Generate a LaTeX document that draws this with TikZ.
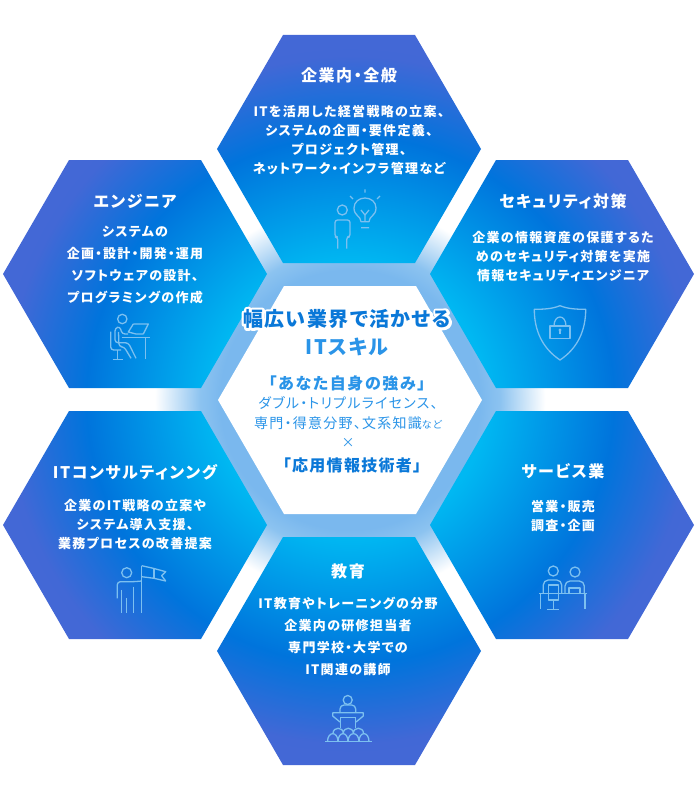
\documentclass[tikz,border=0pt]{standalone}
\usepackage{fontspec}
\setmainfont{Noto Sans CJK JP}[RawFeature=+palt]
\usepackage{tikz}
\definecolor{iconblue}{HTML}{7CC0F0}
\definecolor{deepblue}{HTML}{0A78D8}
\definecolor{skyblue}{HTML}{2A94E8}
\definecolor{ringa}{HTML}{7AB8EE}
\definecolor{ringb}{HTML}{8CC3F0}
\pgfdeclareradialshading{glowring}{\pgfpoint{0bp}{0bp}}{color(0bp)=(ringa);color(16.25bp)=(ringa);color(18.75bp)=(ringb);color(24.4bp)=(white);color(50bp)=(white)}
\definecolor{hexa}{HTML}{00B8F2}
\definecolor{hexb}{HTML}{0074DC}
\definecolor{hexc}{HTML}{4268D6}
\definecolor{hexd}{HTML}{4667D6}
\pgfdeclareradialshading{hexfill}{\pgfpoint{0bp}{0bp}}{color(0bp)=(hexa);color(8.5bp)=(hexa);color(16.5bp)=(hexb);color(21.5bp)=(hexc);color(25bp)=(hexd);color(50bp)=(hexd)}
\newcommand{\hexagon}[2]{(#1-132,#2) -- (#1-66,#2-114) -- (#1+66,#2-114) -- (#1+132,#2) -- (#1+66,#2+114) -- (#1-66,#2+114) -- cycle}
\tikzset{
  hextitle/.style={align=center,text=white,font=\bfseries\fontsize{16}{20}\selectfont\addfontfeature{LetterSpace=10}},
  hexbody/.style={align=center,text=white,font=\bfseries\fontsize{13}{#1}\selectfont\addfontfeature{LetterSpace=10}},
  hexbody/.default=19,
  icon/.style={draw=iconblue,line width=1.3pt,line join=round}
}
\begin{document}
\begin{tikzpicture}[x=1pt,y=-1pt]
  \useasboundingbox (0,0) rectangle (700,800);
  % glow behind the hexagons
  \path[shading=glowring] (350,400) circle[radius=200];
  % the six outer hexagons share one gradient
  \begin{scope}
    \clip \hexagon{349}{149} \hexagon{135}{274} \hexagon{562}{274}
          \hexagon{135}{525} \hexagon{562}{525} \hexagon{349}{651};
    \path[shading=hexfill] (350,400) circle[radius=400];
  \end{scope}
  \fill[white] \hexagon{350}{400};

  % top
  \node[hextitle] (topTitle) at (349,75) {企業内・全般};
  \node[hexbody] (topBody) at (349,140.5) {ITを活用した経営戦略の立案、\\システムの企画・要件定義、\\プロジェクト管理、\\ネットワーク・インフラ管理など};
  % upper left
  \node[hextitle] (engTitle) at (135,201) {エンジニア};
  \node[hexbody=22] (engBody) at (135,265) {システムの\\企画・設計・開発・運用\\ソフトウェアの設計、\\プログラミングの作成};
  % upper right
  \node[hextitle] (secTitle) at (563,201) {セキュリティ対策};
  \node[hexbody] (secBody) at (563,257) {企業の情報資産の保護するた\\めのセキュリティ対策を実施\\情報セキュリティエンジニア};
  % lower left
  \node[hextitle] (conTitle) at (135,472) {ITコンサルティンング};
  \node[hexbody] (conBody) at (135,525) {企業のIT戦略の立案や\\システム導入支援、\\業務プロセスの改善提案};
  % lower right
  \node[hextitle] (svcTitle) at (563,471) {サービス業};
  \node[hexbody] (svcBody) at (563,516.5) {営業・販売\\調査・企画};
  % bottom
  \node[hextitle] (eduTitle) at (348,571) {教育};
  \node[hexbody=22] (eduBody) at (348,636) {IT教育やトレーニングの分野\\企業内の研修担当者\\専門学校・大学での\\IT関連の講師};

  % centre
  \node[text=white,font=\bfseries\fontsize{20}{24}\selectfont\addfontfeature{LetterSpace=7,FakeBold=25}] (midHalo) at (347,319) {\special{pdf:code 1 j}幅広い業界で活かせる};
  \node[text=deepblue,font=\bfseries\fontsize{20}{24}\selectfont\addfontfeature{LetterSpace=7}] (midTitle) at (347,319) {幅広い業界で活かせる};
  \node[text=skyblue,font=\bfseries\fontsize{20}{24}\selectfont\addfontfeature{LetterSpace=7}] (midIt) at (347,347) {ITスキル};
  \node[text=skyblue,font=\bfseries\fontsize{16}{20}\selectfont\addfontfeature{LetterSpace=10}] (midOwn) at (347,383) {「あなた自身の強み」};
  \node[text=skyblue,font=\fontsize{14}{20}\selectfont\addfontfeature{LetterSpace=9},align=center] (midList) at (348,413) {ダブル・トリプルライセンス、\\専門・得意分野、文系知識{\fontsize{10}{20}\selectfont など}};
  \node[text=skyblue,font=\fontsize{13}{16}\selectfont] (midCross) at (348,443) {×};
  \node[text=deepblue,font=\bfseries\fontsize{16}{20}\selectfont\addfontfeature{LetterSpace=8}] (midApp) at (352,465) {「応用情報技術者」};

  % person and bulb
  \draw[icon] (342.3,210) circle[radius=5];
  \draw[icon,rounded corners=2.5pt] (337.7,248.7) -- (337.7,237) -- (335,237) -- (335,220) -- (350,220) -- (350,237) -- (346.7,237) -- (346.7,248.7);
  \draw[icon] (361,221.7) .. controls (361,216) and (354,216) .. (354,208) .. controls (354,202) and (359,198) .. (365,198) .. controls (371,198) and (376,202) .. (376,208) .. controls (376,216) and (369,216) .. (369,221.7) -- cycle;
  \draw[icon] (361,210) -- (365,215) -- (369,210) (365,215) -- (365,221.7) (361,227.7) -- (369,227.7);
  \draw[icon] (365,189.3) -- (365,192.7) (350,196) -- (353,199) (380,196) -- (377,199);
  % person at a laptop
  \draw[icon] (122.3,319) circle[radius=4.7];
  \draw[icon] (133.3,324) -- (148.3,324) -- (143.3,334) (133.3,324) -- (128.3,332) -- (136,334) -- (143.3,334);
  \draw[icon] (121.7,337.7) -- (150,337.7) (145.7,337.7) -- (145.7,359.3);
  \draw[icon,rounded corners=3pt] (128,334) -- (122,334) -- (120,326.5) -- (115,328) -- (115,342.7) -- (128.3,342.7) -- (136,358.3) (118.5,332) -- (119,346.7) -- (124,346.7) -- (131,358.3);
  \draw[icon,rounded corners=3pt] (110.7,331.7) -- (110.7,350) -- (121,350);
  \draw[icon] (117.3,350) -- (117.3,359.3) (112.7,359.3) -- (122.7,359.3);
  % shield with lock
  \draw[icon] (560,305.7) .. controls (552,309) and (543,309.3) .. (534.3,309.3) .. controls (534.3,330) and (542,348) .. (560,360) .. controls (578,348) and (585.7,330) .. (585.7,309.3) .. controls (577,309.3) and (568,309) .. (560,305.7) -- cycle;
  \draw[icon] (550,326) rectangle (570,338.3);
  \draw[icon] (554,326) .. controls (554,314) and (566,314) .. (566,326);
  \fill[iconblue] (560,330) circle[radius=1.6];
  \draw[icon] (560,330) -- (560,334.3);
  % person with flag
  \draw[icon] (126.7,572.7) circle[radius=5];
  \draw[icon,rounded corners=3pt] (117.3,598.3) -- (117.3,581.7) -- (134,581.7) -- (141.7,581);
  \draw[icon] (141.7,565.7) -- (141.7,612.7) (121.7,612.7) -- (121.7,590) (126.7,598.3) -- (126.7,612.7) (133.3,586.7) -- (133.3,612.7);
  \draw[icon] (141.7,565.7) -- (153.3,568.3) -- (165.7,571.7) -- (161.7,575.7) -- (165.7,581) -- (154,578.3) -- (141.7,576.7);
  \draw[icon] (154,568.3) -- (154,578.3);
  % two people at a counter
  \draw[icon] (553.3,571) circle[radius=5];
  \draw[icon] (575,572) circle[radius=5];
  \draw[icon] (539.3,593.3) -- (586.7,593.3) (540.7,593.3) -- (540.7,609.3) (585,593.3) -- (585,609.3);
  \draw[icon,rounded corners=5pt] (543.3,593.3) -- (543.3,580) -- (561.7,580) -- (561.7,593.3);
  \draw[icon] (548.3,585) rectangle (558.3,600);
  \draw[icon] (553.3,600) -- (553.3,609.3) (547.3,609.3) -- (559.3,609.3);
  \draw[icon,rounded corners=5pt] (565,593.3) -- (565,581) -- (584.3,581) -- (584.3,593.3);
  \draw[icon] (569,593.3) -- (569,588) -- (580,588) -- (580,593.3);
  % speaker and audience
  \draw[icon] (347.7,700) circle[radius=4.5];
  \draw[icon,rounded corners=4pt] (340,712.7) -- (340,705) -- (355.7,705) -- (355.7,712.7);
  \draw[icon] (332.7,712.7) -- (363.3,712.7) -- (363.3,716) -- (356,722) (332.7,712.7) -- (332.7,716) -- (340,722);
  \draw[icon] (340.7,717.3) -- (355.7,717.3) (340.7,717.3) -- (340.7,728) (355.7,717.3) -- (355.7,728);
  \draw[icon] (333,733.5) .. controls (333,726.5) and (343.3,726.5) .. (343.3,733.5)
              (343.3,733.5) .. controls (343.3,726.5) and (353.3,726.5) .. (353.3,733.5)
              (353.3,733.5) .. controls (353.3,726.5) and (363.5,726.5) .. (363.5,733.5);
  \draw[icon] (327.5,741.7) .. controls (327.5,731) and (338,731) .. (338,741.7)
              (338,741.7) .. controls (338,731) and (348,731) .. (348,741.7)
              (348,741.7) .. controls (348,731) and (359,731) .. (359,741.7)
              (359,741.7) .. controls (359,731) and (369,731) .. (369,741.7);
  \draw[icon] (325,741.7) -- (371.7,741.7);
\end{tikzpicture}
\end{document}
